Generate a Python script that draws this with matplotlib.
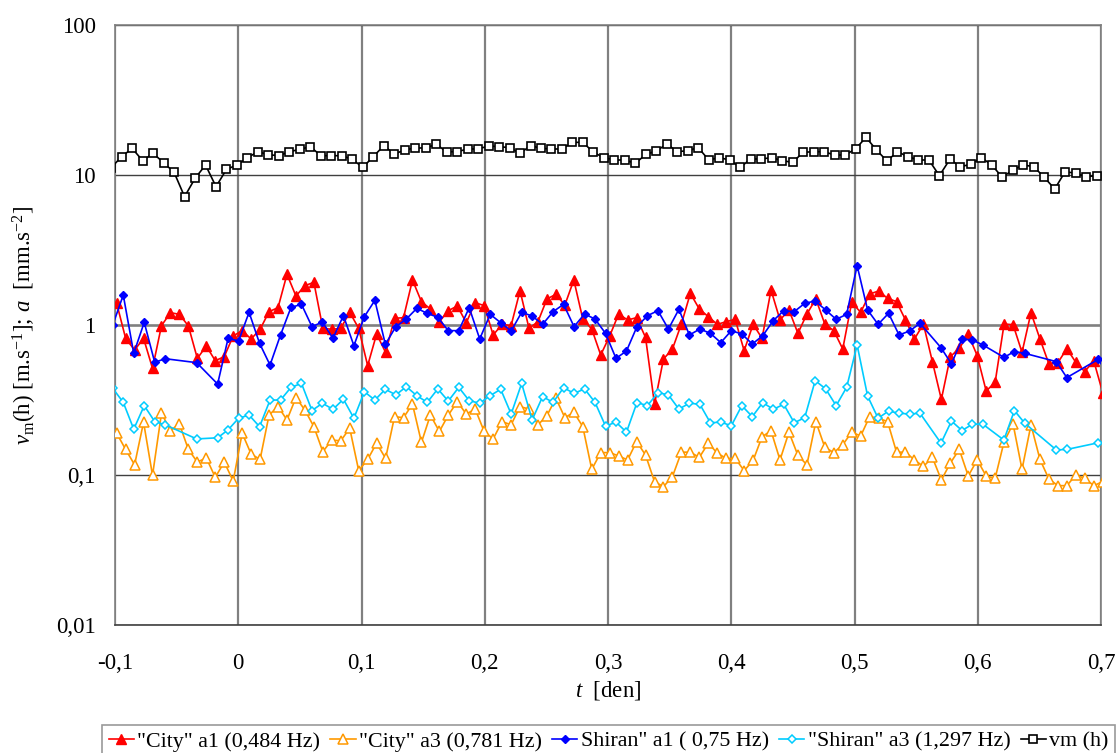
import numpy as np
import matplotlib
matplotlib.use("Agg")
import matplotlib.pyplot as plt

plt.rcParams['font.family'] = ['Liberation Serif', 'DejaVu Serif']
plt.rcParams['mathtext.fontset'] = 'custom'
plt.rcParams['mathtext.rm'] = 'Liberation Serif'
plt.rcParams['mathtext.it'] = 'Liberation Serif:italic'
plt.rcParams['axes.unicode_minus'] = False

nan = np.nan

# ---------------- data ----------------
# sampling (time in days)
T0_VM, DT_VM = -0.1031, 0.008506      # vm(h) samples
T0_SH, DT_SH = -0.1018, 0.008506      # "Shiran" samples
T0_CITY, DT_CITY = -0.09865, 0.007273  # "City" samples

vm = [11.2, 13.25, 15.06, 12.46, 13.94, 12.08, 10.42, 7.17, 9.50, 11.66, 8.36, 10.91, 11.66,
      13.05, 14.30, 13.66, 13.45, 14.30, 14.83, 15.45, 13.45, 13.45, 13.45, 12.72, 11.25, 13.25,
      15.69, 13.80,
      14.68, 15.14, 15.14, 16.01, 14.30, 14.30, 14.91, 14.91, 15.61, 15.45, 15.22, 13.94, 15.69,
      15.06, 14.91, 14.91, 16.51, 16.51, 14.16, 13.05, 12.59, 12.59, 11.96, 13.73, 14.45, 16.09,
      14.30, 14.53,
      15.22, 12.59, 13.05, 12.59, 11.25, 12.79, 12.79, 13.05, 12.46, 12.15, 14.16, 14.30, 14.30,
      13.59, 13.59, 14.91, 17.83, 14.68, 12.40,
      14.30, 13.25, 12.59, 12.59, 9.90, 12.72, 11.37, 11.78, 13.05, 11.66, 9.65, 10.80, 11.66,
      11.37, 9.65, 8.07, 10.53, 10.26, 9.75, 9.90, 10.3]

shiran_a1 = [1.0,
             1.585, 0.647, 1.042, 0.564, 0.596, nan, nan, 0.561, nan, 0.404, 0.815, 0.782, 1.215,
             0.755, 0.541, 0.858, 1.311, 1.373, 0.975, 1.047, 0.815, 1.154, 0.728, 1.137, 1.460,
             0.743, 0.975,
             1.096, 1.291, 1.196, 1.125, 0.917, 0.917, 1.305, 0.807, 1.178, 1.036, 0.912, 1.215,
             1.148, 1.010, 1.227, 1.373, 0.975, 1.184, 1.096, 0.880, 0.599, 0.671, 0.975, 1.154,
             1.246, 0.940, 1.272, 0.858,
             0.940, 0.880, 0.763, 0.917, 0.871, 0.747, 0.849, 1.069, 1.246, 1.227, 1.395, 1.445,
             1.259, 1.091, 1.178, 2.486, 1.259, 1.010, 1.196, 0.858, 0.912, 1.026, nan, 0.706,
             0.550, 0.807, 0.794,
             0.736, nan, 0.609, 0.664, 0.647, nan, nan, 0.570, 0.446, nan, nan, 0.590,
             0.464]

shiran_a3 = [0.378,
             0.305, 0.202, 0.290, 0.227, 0.216, nan, nan, 0.174, nan, 0.177, 0.200, 0.239, 0.251,
             0.210, 0.316, 0.316, 0.384, 0.408, 0.269, 0.301, 0.274, 0.320, 0.239, 0.359, 0.316,
             0.373, 0.342,
             0.388, 0.338, 0.305, 0.375, 0.311, 0.384, 0.313, 0.301, 0.338, 0.373, 0.255, 0.408,
             0.233, 0.333, 0.305, 0.382, 0.350, 0.375, 0.305, 0.212, 0.225, 0.193, 0.304, 0.290,
             0.354, 0.342, 0.275, 0.301,
             0.296, 0.223, 0.225, 0.213, 0.290, 0.245, 0.304, 0.274, 0.296, 0.223, 0.241, 0.426,
             0.375, 0.290, 0.384, 0.736, 0.336, 0.239, 0.267, 0.258, 0.255, 0.258, nan, 0.163,
             0.229, 0.198, 0.218,
             0.218, nan, 0.171, 0.269, 0.221, nan, nan, 0.147, 0.148, nan, nan, 0.164,
             0.151]

city_a1 = [1.395, 0.815, 0.681, 0.815, 0.514, 0.990, 1.208, 1.178, 0.985, 0.599, 0.724, 0.578,
           0.615, 0.845, 0.917, 0.807, 0.936, 1.227, 1.305, 2.177, 1.561, 1.829, 1.925, 0.950,
           0.936, 0.950, 1.215, 0.950, 0.536, 0.871, 0.657, 1.108,
           1.119, 1.995, 1.431, 1.278, 1.052, 1.246, 1.339, 1.036, 1.409, 1.346, 0.858, 1.010,
           0.990, 1.693, 0.950, 1.052, 1.491, 1.601, 1.359, 1.995, 1.096, 0.940, 0.631, 0.845,
           1.184, 1.080, 1.119, 0.827, 0.297, 0.593, 0.692, 1.015, 1.626,
           1.278, 1.137, 1.010, 1.052, 1.091, 0.674, 1.010, 0.815, 1.711, 1.080, 1.259, 0.880,
           1.184, 1.491, 1.015, 0.917, 0.692, 1.416, 1.215, 1.609, 1.685, 1.506, 1.431, 1.080,
           0.807, 1.015, 0.570, 0.319, 0.615, 0.699, 0.867, 0.625,
           0.363, 0.415, 1.015, 1.005, 0.657, 1.208, 0.807, 0.550, 0.561, 0.695, 0.564, 0.489,
           0.578, 0.354]

city_a3 = [0.190, 0.148, 0.117, 0.225, 0.0995, 0.258, 0.198, 0.219, 0.148, 0.122, 0.130, 0.0965,
           0.122, 0.0912, 0.190, 0.138, 0.127, 0.251, 0.286, 0.233, 0.328, 0.271, 0.210, 0.143,
           0.171, 0.169, 0.205, 0.107, 0.127, 0.163, 0.129, 0.245,
           0.241, 0.297, 0.165, 0.251, 0.195, 0.251, 0.308, 0.255, 0.275, 0.195, 0.174, 0.227,
           0.216, 0.286, 0.275, 0.216, 0.249, 0.325, 0.241, 0.262, 0.210, 0.109, 0.141, 0.141,
           0.134, 0.126, 0.167, 0.136, 0.0903, 0.0836, 0.0975, 0.142, 0.142,
           0.131, 0.163, 0.140, 0.129, 0.129, 0.107, 0.125, 0.180, 0.197, 0.126, 0.193, 0.135,
           0.117, 0.227, 0.153, 0.141, 0.159, 0.193, 0.182, 0.245, 0.239, 0.227, 0.142, 0.142,
           0.126, 0.114, 0.131, 0.0926, 0.120, 0.148, 0.0985, 0.126,
           0.0985, 0.0950, 0.167, 0.219, 0.109, 0.216, 0.127, 0.0940, 0.0849, 0.0849, 0.100,
           0.0950, 0.0849, 0.0903]

labels = ['"City" a1 (0,484 Hz)', '"City" a3 (0,781 Hz)', 'Shiran" a1 ( 0,75 Hz)',
          '"Shiran" a3 (1,297 Hz)', 'vm (h)']
x_ticks = [-0.1, 0.0, 0.1, 0.2, 0.3, 0.4, 0.5, 0.6, 0.7]
x_ticklabels = ['-0,1', '0', '0,1', '0,2', '0,3', '0,4', '0,5', '0,6', '0,7']
y_ticks = [0.01, 0.1, 1, 10, 100]
y_ticklabels = ['0,01', '0,1', '1', '10', '100']


def series(t0, dt, values):
    v = np.asarray(values, dtype=float)
    t = t0 + dt * np.arange(len(v))
    m = ~np.isnan(v)
    return t[m], v[m]


fig = plt.figure(figsize=(11.17, 7.53), dpi=100)
ax = fig.add_axes([115 / 1117, 1 - 625 / 753, (1101 - 115) / 1117, 600 / 753])

lw = 1.2
ax.plot(*series(T0_CITY, DT_CITY, city_a1), color='#FF0000', lw=lw, marker='^', ms=7,
        mfc='#FF0000', mec='#FF0000', label=labels[0], zorder=3)
ax.plot(*series(T0_CITY, DT_CITY, city_a3), color='#FF9900', lw=lw, marker='^', ms=6.5,
        mfc='white', mec='#FF9900', mew=1.1, label=labels[1], zorder=3)
ax.plot(*series(T0_SH, DT_SH, shiran_a1), color='#0000FF', lw=lw, marker='D', ms=4.5,
        mfc='#0000FF', mec='#0000FF', label=labels[2], zorder=4)
ax.plot(*series(T0_SH, DT_SH, shiran_a3), color='#00CCFF', lw=lw, marker='D', ms=4.5,
        mfc='white', mec='#00CCFF', mew=1.1, label=labels[3], zorder=4)
ax.plot(*series(T0_VM, DT_VM, vm), color='black', lw=lw, marker='s', ms=5.5,
        mfc='white', mec='black', mew=1.2, label=labels[4], zorder=5)

ax.set_yscale('log')
ax.set_xlim(-0.1, 0.7)
ax.set_ylim(0.01, 100)
ax.set_xticks(x_ticks)
ax.set_xticklabels(x_ticklabels)
ax.set_yticks(y_ticks)
ax.set_yticklabels(y_ticklabels)
ax.minorticks_off()
ax.tick_params(axis='both', length=0, labelsize=16.5)
ax.tick_params(axis='x', pad=20)
ax.tick_params(axis='y', pad=14)

for xt in x_ticks:
    ax.axvline(xt, color='#808080', lw=1.6, zorder=1)
for yt in y_ticks:
    ax.axhline(yt, color='#404040', lw=1.0, zorder=1)
ax.axhline(1, color='#808080', lw=1.8, zorder=1)
for s in ax.spines.values():
    s.set_color('#808080')
    s.set_linewidth(1.2)
ax.spines['bottom'].set_color('#404040')

ax.set_xlabel(r'$t$  [den]', fontsize=16.5, labelpad=4)
ax.set_ylabel(r'$v_{\mathrm{m}}$(h) [m.s$^{\mathrm{-1}}$]; $a$  [mm.s$^{\mathrm{-2}}$]',
              fontsize=16.5, labelpad=12)

leg_x0, leg_x1, leg_top = 102 / 1117, 1115 / 1117, 1 - 725 / 753
leg = fig.legend(loc='upper left', bbox_to_anchor=(leg_x0, leg_top - 0.1, leg_x1 - leg_x0, 0.1),
                 mode='expand', ncol=5,
                 fontsize=15.8, frameon=True, fancybox=False, edgecolor='#808080',
                 handlelength=1.15, handletextpad=0.15, columnspacing=0.45,
                 borderpad=0.3, borderaxespad=0)
leg.get_frame().set_linewidth(1.2)

fig.savefig('out.png', dpi=100)
